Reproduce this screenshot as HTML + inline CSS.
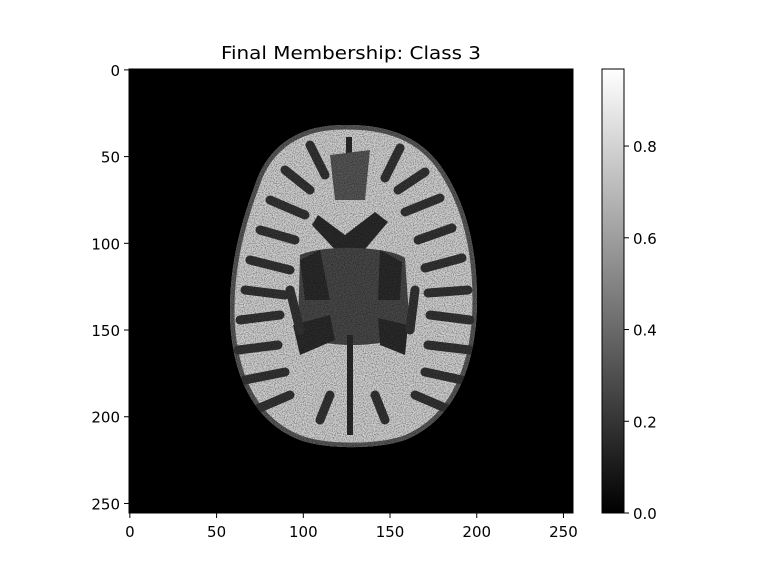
<!DOCTYPE html>
<html><head><meta charset="utf-8"><style>
body{margin:0;background:#fff;font-family:"DejaVu Sans","Liberation Sans",sans-serif;}
svg text{font-family:"DejaVu Sans","Liberation Sans",sans-serif;font-size:15px;fill:#000}
</style></head><body>
<svg id="chart" width="768" height="576" viewBox="0 0 768 576" xmlns="http://www.w3.org/2000/svg">
<defs>
<filter id="noise" x="0" y="0" width="100%" height="100%">
<feTurbulence type="fractalNoise" baseFrequency="0.9" numOctaves="1" seed="3" result="n"/>
<feColorMatrix type="matrix" values="0 0 0 0 0  0 0 0 0 0  0 0 0 0 0  0 0 0 -2.2 1.3" />
</filter>
<clipPath id="brainclip"><path d="M347,125 C300,124 268,145 255,185 C240,225 230,265 230,310 C230,365 248,420 300,440 C325,449 375,450 405,440 C455,420 477,365 477,300 C477,245 465,200 440,165 C420,138 390,125 347,125 Z"/></clipPath>
<linearGradient id="cbgrad" x1="0" y1="1" x2="0" y2="0">
<stop offset="0" stop-color="#000"/><stop offset="1" stop-color="#fff"/></linearGradient>
</defs>
<text x="351" y="59" text-anchor="middle" style="font-size:18px" textLength="260" lengthAdjust="spacingAndGlyphs">Final Membership: Class 3</text>
<rect x="129" y="69" width="444" height="444" fill="#000"/>
<g clip-path="url(#brainclip)">
<rect x="225" y="120" width="260" height="335" fill="#cdcdcd"/>
<path d="M347,125 C300,124 268,145 255,185 C240,225 230,265 230,310 C230,365 248,420 300,440 C325,449 375,450 405,440 C455,420 477,365 477,300 C477,245 465,200 440,165 C420,138 390,125 347,125 Z" fill="none" stroke="#555" stroke-width="9"/>
<g fill="#2a2a2a">
<path d="M318,215 L345,235 L375,212 L388,222 L360,255 L350,262 L340,255 L312,225 Z"/>
<path d="M300,255 C320,245 385,245 405,258 L410,330 C395,350 310,350 298,330 Z" fill="#474747"/>
<path d="M293,325 L330,315 L335,340 L300,355 Z"/>
<path d="M378,318 L408,325 L405,355 L380,345 Z"/>
<path d="M300,260 L320,250 L330,300 L305,300 Z"/>
<path d="M380,250 L402,262 L400,300 L378,300 Z"/>
<rect x="346" y="137" width="6" height="50"/>
<rect x="347" y="335" width="6" height="100"/>
<path d="M330,155 L370,150 L365,200 L335,200 Z" fill="#555"/>
</g>
<g stroke="#333" stroke-width="9" stroke-linecap="round" fill="none">
<path d="M240,320 L280,315"/><path d="M238,350 L278,345"/><path d="M245,380 L285,372"/>
<path d="M255,410 L290,395"/><path d="M245,290 L285,295"/><path d="M250,260 L290,270"/>
<path d="M260,230 L295,240"/><path d="M270,200 L305,215"/><path d="M285,170 L310,190"/>
<path d="M310,145 L325,175"/><path d="M470,320 L430,315"/><path d="M470,350 L428,345"/>
<path d="M462,380 L425,372"/><path d="M450,410 L415,395"/><path d="M468,290 L428,293"/>
<path d="M462,258 L425,268"/><path d="M452,228 L418,240"/><path d="M440,198 L405,212"/>
<path d="M425,172 L398,190"/><path d="M400,148 L385,178"/><path d="M320,420 L330,395"/>
<path d="M385,420 L375,395"/><path d="M290,290 L300,330"/><path d="M415,290 L410,330"/>
</g>
<rect x="225" y="120" width="260" height="335" fill="#000" filter="url(#noise)" opacity="0.5"/>
</g>
<g id="xaxis"></g>
<g id="yaxis"></g>
<rect x="602" y="69" width="22" height="444" fill="url(#cbgrad)" stroke="#000" stroke-width="1"/>
<g id="cbaxis"></g>
</svg>
<script>
const xTicks=[0,50,100,150,200,250];
const yTicks=[0,50,100,150,200,250];
const cbTicks=[0.0,0.2,0.4,0.6,0.8];
const cbMax=0.968;
const NS="http://www.w3.org/2000/svg";
const X0=129,Y0=69,S=444/256;
const xs=v=>X0+(v+0.5)*S, ys=v=>Y0+(v+0.5)*S;
const cy=v=>513-v/cbMax*444;
function mk(t,a,p){const e=document.createElementNS(NS,t);for(const k in a)e.setAttribute(k,a[k]);p.appendChild(e);return e;}
const xa=document.getElementById('xaxis'),ya=document.getElementById('yaxis'),ca=document.getElementById('cbaxis');
mk('rect',{x:X0,y:Y0,width:444,height:444,fill:'none',stroke:'#000','stroke-width':1},xa);
xTicks.forEach(v=>{const l=mk('line',{x1:xs(v),x2:xs(v),y1:513,y2:518,stroke:'#000'},xa);


const t=mk('text',{x:xs(v),y:537,'text-anchor':'middle'},xa);t.textContent=v;

});
yTicks.forEach(v=>{const l=mk('line',{x1:124,x2:129,y1:ys(v),y2:ys(v),stroke:'#000'},ya);


const t=mk('text',{x:120,y:ys(v)+6,'text-anchor':'end'},ya);t.textContent=v;

});
cbTicks.forEach(v=>{const l=mk('line',{x1:624,x2:629,y1:cy(v),y2:cy(v),stroke:'#000'},ca);


const t=mk('text',{x:633,y:cy(v)+6},ca);t.textContent=v.toFixed(1);

});
</script>
</body></html>
